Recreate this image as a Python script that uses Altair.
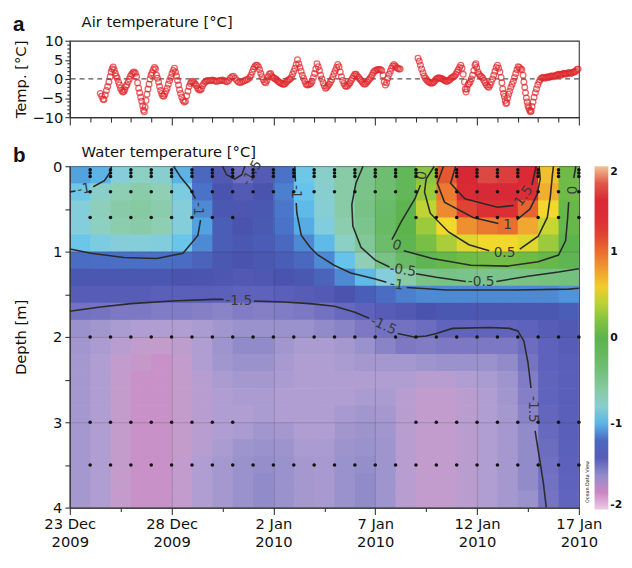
import json
import altair as alt
import pandas as pd

# ---------------- data (days since 23 Dec 2009 00:00) ----------------
air_day = [
 1.50,1.57,1.63,1.68,1.74,1.80,1.86,1.92,1.98,2.03,2.08,2.13,2.18,2.23,2.28,2.33,2.39,2.44,2.49,2.55,
 2.60,2.65,2.70,2.75,2.80,2.86,2.92,2.98,3.04,3.10,3.16,3.22,3.28,3.33,3.38,3.43,3.48,3.53,3.58,3.62,
 3.66,3.70,3.74,3.79,3.84,3.89,3.94,3.99,4.04,4.10,4.16,4.21,4.26,4.31,4.36,4.41,4.46,4.51,4.56,4.61,
 4.66,4.72,4.78,4.84,4.90,4.96,5.02,5.08,5.14,5.19,5.24,5.29,5.34,5.39,5.44,5.50,5.56,5.62,5.68,5.74,
 5.80,5.86,5.92,5.98,6.04,6.10,6.16,6.22,6.28,6.34,6.40,6.46,6.52,6.58,6.64,6.70,6.76,
 6.84,6.92,7.00,7.08,7.16,7.24,7.32,7.40,7.48,7.56,7.64,7.72,7.80,7.88,7.96,8.04,8.12,8.20,8.28,8.36,
 8.44,8.52,8.60,8.68,8.76,8.84,8.90,8.96,9.02,9.08,9.14,9.20,9.26,9.32,9.38,9.44,9.50,9.56,9.62,9.68,
 9.74,9.80,9.86,9.92,9.98,10.04,10.10,10.16,10.22,10.28,10.34,10.40,10.46,10.52,10.58,10.64,10.70,10.76,10.82,10.88,
 10.94,11.00,11.06,11.12,11.18,11.24,11.30,11.36,11.42,11.48,11.54,11.60,11.66,11.72,11.78,11.84,11.90,11.96,12.02,12.08,
 12.14,12.20,12.26,12.32,12.38,12.44,12.50,12.56,12.62,12.68,12.74,12.80,12.86,12.92,12.98,13.04,13.10,13.16,13.22,13.28,
 13.34,13.40,13.46,13.52,13.58,13.64,13.70,13.76,13.82,13.88,13.94,14.00,14.06,14.12,14.18,14.24,14.30,14.36,14.42,14.48,
 14.54,14.60,14.66,14.72,14.78,14.84,14.90,14.96,15.02,15.08,15.14,15.20,15.26,15.32,15.38,15.44,15.50,15.56,15.62,15.68,
 15.74,15.80,15.86,15.92,15.98,16.04,16.10,16.16,16.22,
 17.10,17.16,17.22,17.28,17.34,17.40,17.46,17.52,17.58,17.64,17.70,17.76,17.82,17.88,17.94,18.00,18.06,18.12,18.18,18.24,
 18.30,18.36,18.42,18.48,18.54,18.60,18.66,18.72,18.78,18.84,18.90,18.96,19.02,19.08,19.14,19.20,19.26,19.32,19.38,19.42,
 19.46,19.50,19.55,19.60,19.66,19.72,19.78,19.84,19.90,19.94,19.98,20.04,20.10,20.16,20.22,20.28,20.34,20.40,20.46,20.52,
 20.58,20.64,20.70,20.76,20.82,20.88,20.94,21.00,21.06,21.12,21.18,21.22,21.26,21.30,21.34,21.38,21.42,21.46,21.50,21.55,
 21.60,21.66,21.72,21.78,21.84,21.90,21.96,22.02,22.08,22.14,22.20,22.26,22.30,22.34,22.38,22.42,22.46,22.50,22.54,22.58,
 22.62,22.66,22.70,22.75,22.80,22.86,22.92,22.98,23.04,23.10,23.16,23.22,23.28,23.34,23.40,23.46,23.52,23.58,23.64,23.70,
 23.76,23.82,23.88,23.94,24.00,24.06,24.12,24.18,24.24,24.30,24.36,24.42,24.48,24.54,24.60,24.66,24.72,24.78,24.84,24.90,
 24.96,
]
air_temp = [
 -3.8,-4.5,-5.3,-5.4,-4.2,-3.0,-2.0,-0.8,0.6,1.8,2.6,3.1,2.4,1.5,0.8,0.2,-0.8,-1.6,-2.4,-3.0,
 -3.4,-3.3,-2.8,-2.0,-1.6,-0.8,0.0,0.8,1.2,1.6,1.8,1.5,0.6,-1.0,-2.4,-3.6,-4.8,-5.8,-7.0,-8.2,
 -8.6,-7.4,-5.6,-4.0,-2.6,-1.4,0.0,1.0,1.6,2.4,3.0,2.6,1.0,0.2,-0.8,-2.0,-3.0,-3.8,-4.4,-4.5,
 -4.0,-3.2,-2.4,-1.4,-0.4,0.4,1.4,2.2,2.8,1.8,0.8,-0.4,-1.6,-2.8,-3.8,-4.8,-5.6,-6.0,-5.8,-4.4,
 -3.2,-2.0,-1.2,-0.8,-0.6,-1.0,-1.4,-1.8,-2.4,-2.8,-2.9,-2.6,-1.8,-1.2,-0.8,-0.6,-0.4,
 -0.5,-0.4,-0.3,-0.4,-0.6,-0.6,-0.5,-0.4,-0.3,-0.4,-0.6,-0.7,-0.4,0.2,0.6,0.7,0.2,-0.4,-0.8,-0.9,
 -0.8,-0.6,-0.4,-0.2,0.0,0.4,1.0,1.8,2.6,3.2,3.6,3.6,3.2,2.4,1.4,0.6,-0.2,-0.8,-1.0,-0.4,
 0.6,1.2,1.4,0.8,0.4,0.2,0.0,-0.2,-0.6,-0.8,-1.0,-1.2,-1.4,-1.4,-1.2,-0.8,-0.4,-0.2,0.0,0.4,
 1.2,2.0,2.8,3.8,5.0,4.0,3.0,2.0,1.0,0.2,-0.6,-1.4,-1.6,-1.5,-1.4,-1.2,-0.6,0.4,1.4,2.6,
 4.0,3.2,2.2,1.0,0.0,-1.0,-1.8,-2.4,-2.2,-1.8,-1.4,-0.8,-0.2,0.6,1.4,2.2,3.0,3.8,3.2,1.8,
 0.6,-0.4,-1.2,-1.8,-2.0,-1.8,-1.4,-1.0,-0.4,0.2,0.8,1.2,1.2,0.8,0.4,0.0,-0.4,-0.8,-1.2,-1.4,
 -1.2,-0.8,-0.4,0.0,0.4,1.0,1.6,2.0,2.2,2.4,2.4,2.5,2.4,2.2,1.0,-0.8,-1.6,-1.0,0.2,1.2,
 2.0,2.8,3.4,3.8,3.4,3.0,2.8,2.6,2.6,
 5.4,4.6,3.6,2.6,1.6,0.8,0.2,-0.2,-0.6,-0.8,-1.0,-1.1,-1.0,-0.8,-0.4,0.0,0.2,0.3,0.2,0.1,
 0.0,-0.2,-0.4,-0.6,-0.6,-0.4,-0.2,0.2,0.4,0.6,0.8,1.2,1.8,2.4,3.0,3.6,2.8,1.2,-0.8,-2.6,
 -3.4,-2.6,-1.6,-1.2,-0.8,0.0,1.0,2.2,3.6,4.0,3.0,1.8,1.2,0.8,0.6,0.2,-0.4,-1.0,-1.6,-2.0,
 -2.2,-1.6,-0.8,0.0,1.0,2.0,3.0,3.6,2.8,1.8,0.4,-1.0,-2.6,-3.8,-4.6,-5.6,-6.4,-6.2,-5.0,-4.0,
 -3.2,-2.2,-1.4,-0.6,0.4,1.4,2.4,3.2,3.0,2.6,2.4,1.0,-0.8,-2.2,-3.6,-5.0,-6.0,-7.0,-7.6,-8.2,
 -8.6,-8.4,-7.2,-6.0,-4.8,-3.6,-2.6,-1.6,-0.8,-0.2,0.2,0.4,0.4,0.2,0.4,0.6,0.4,0.6,0.8,0.8,
 0.6,0.8,1.0,1.0,1.2,1.2,1.0,1.2,1.4,1.4,1.2,1.4,1.6,1.6,1.4,1.6,1.8,1.8,2.0,2.4,
 2.6,
]

# water temperature grid: cells 1 day wide, 0.2 m deep
cell_day_start = list(range(25))
cell_depth_top = [0.0, 0.2, 0.4, 0.6, 0.8, 1.0, 1.2, 1.4, 1.6, 1.8,
                  2.0, 2.2, 2.4, 2.6, 2.8, 3.0, 3.2, 3.4, 3.6, 3.8]
water_temp = [
 [-1.05,-1.0,-0.84,-0.76,-0.8,-1.0,-1.2,-1.35,-1.5,-1.38,-1.15,-0.92,-0.78,-0.62,-0.48,-0.32,-0.12,0.25,1.1,1.65,1.75,1.72,1.55,0.65,0.1],
 [-0.92,-0.78,-0.68,-0.64,-0.7,-0.88,-1.15,-1.3,-1.36,-1.3,-1.12,-0.95,-0.8,-0.62,-0.47,-0.33,-0.14,0.3,0.95,1.5,1.62,1.6,1.45,0.72,0.1],
 [-0.85,-0.72,-0.63,-0.6,-0.65,-0.84,-1.1,-1.28,-1.32,-1.28,-1.14,-0.98,-0.82,-0.62,-0.45,-0.28,-0.04,0.42,0.88,1.2,1.35,1.4,1.05,0.55,0.05],
 [-0.85,-0.74,-0.66,-0.63,-0.68,-0.85,-1.05,-1.25,-1.3,-1.27,-1.15,-1.02,-0.86,-0.66,-0.5,-0.25,0.0,0.3,0.55,0.85,0.95,1.0,0.75,0.45,0.05],
 [-0.93,-0.88,-0.84,-0.84,-0.86,-0.94,-1.1,-1.25,-1.28,-1.26,-1.2,-1.1,-0.98,-0.76,-0.55,-0.3,-0.05,0.15,0.35,0.5,0.55,0.55,0.5,0.3,0.0],
 [-1.18,-1.17,-1.16,-1.16,-1.16,-1.18,-1.22,-1.28,-1.3,-1.28,-1.25,-1.2,-1.1,-0.95,-0.7,-0.45,-0.25,-0.05,0.05,0.1,0.12,0.12,0.1,0.05,-0.05],
 [-1.28,-1.28,-1.28,-1.28,-1.28,-1.3,-1.31,-1.32,-1.35,-1.33,-1.3,-1.28,-1.22,-1.1,-0.98,-0.85,-0.62,-0.48,-0.46,-0.48,-0.5,-0.48,-0.45,-0.42,-0.4],
 [-1.4,-1.4,-1.4,-1.4,-1.42,-1.42,-1.42,-1.43,-1.45,-1.45,-1.42,-1.4,-1.36,-1.3,-1.25,-1.18,-1.12,-1.1,-1.1,-1.1,-1.1,-1.1,-1.1,-1.1,-1.08],
 [-1.52,-1.53,-1.55,-1.55,-1.56,-1.56,-1.57,-1.58,-1.56,-1.57,-1.56,-1.55,-1.52,-1.48,-1.45,-1.4,-1.35,-1.3,-1.28,-1.28,-1.28,-1.28,-1.28,-1.28,-1.25],
 [-1.62,-1.65,-1.68,-1.7,-1.7,-1.7,-1.68,-1.65,-1.62,-1.62,-1.62,-1.62,-1.6,-1.58,-1.55,-1.52,-1.52,-1.5,-1.46,-1.46,-1.46,-1.46,-1.45,-1.4,-1.35],
 [-1.65,-1.68,-1.72,-1.75,-1.76,-1.74,-1.7,-1.64,-1.6,-1.6,-1.65,-1.68,-1.68,-1.66,-1.62,-1.58,-1.55,-1.56,-1.55,-1.55,-1.55,-1.55,-1.5,-1.45,-1.4],
 [-1.66,-1.7,-1.75,-1.77,-1.78,-1.76,-1.7,-1.65,-1.62,-1.62,-1.67,-1.7,-1.7,-1.68,-1.66,-1.66,-1.66,-1.64,-1.62,-1.62,-1.62,-1.6,-1.53,-1.45,-1.42],
 [-1.66,-1.7,-1.76,-1.78,-1.78,-1.76,-1.72,-1.68,-1.66,-1.66,-1.68,-1.7,-1.7,-1.7,-1.7,-1.7,-1.7,-1.72,-1.72,-1.7,-1.68,-1.64,-1.56,-1.46,-1.42],
 [-1.66,-1.7,-1.76,-1.78,-1.78,-1.76,-1.72,-1.7,-1.68,-1.68,-1.7,-1.7,-1.7,-1.7,-1.68,-1.68,-1.72,-1.75,-1.75,-1.73,-1.7,-1.65,-1.57,-1.46,-1.42],
 [-1.66,-1.7,-1.76,-1.78,-1.78,-1.76,-1.72,-1.7,-1.7,-1.68,-1.7,-1.7,-1.7,-1.67,-1.65,-1.66,-1.72,-1.75,-1.75,-1.73,-1.7,-1.66,-1.58,-1.47,-1.42],
 [-1.66,-1.7,-1.76,-1.78,-1.78,-1.76,-1.72,-1.7,-1.68,-1.65,-1.66,-1.7,-1.7,-1.65,-1.63,-1.65,-1.72,-1.75,-1.75,-1.73,-1.7,-1.66,-1.6,-1.48,-1.42],
 [-1.66,-1.7,-1.76,-1.78,-1.78,-1.76,-1.72,-1.68,-1.64,-1.62,-1.63,-1.68,-1.68,-1.63,-1.62,-1.64,-1.72,-1.75,-1.75,-1.73,-1.7,-1.66,-1.6,-1.5,-1.43],
 [-1.66,-1.7,-1.76,-1.78,-1.78,-1.75,-1.7,-1.66,-1.62,-1.61,-1.62,-1.66,-1.67,-1.62,-1.61,-1.64,-1.72,-1.75,-1.75,-1.73,-1.7,-1.66,-1.6,-1.51,-1.44],
 [-1.66,-1.7,-1.76,-1.78,-1.78,-1.75,-1.7,-1.66,-1.62,-1.6,-1.62,-1.66,-1.67,-1.62,-1.6,-1.64,-1.72,-1.75,-1.75,-1.73,-1.7,-1.66,-1.6,-1.52,-1.45],
 [-1.66,-1.7,-1.76,-1.78,-1.78,-1.75,-1.7,-1.66,-1.62,-1.6,-1.62,-1.66,-1.67,-1.62,-1.6,-1.64,-1.72,-1.75,-1.75,-1.73,-1.7,-1.66,-1.62,-1.53,-1.46],
]

# sampling positions (black dots)
depths_all_days = [0.04, 0.08, 0.12, 0.3, 2.0, 3.5]
depths_some_days = [0.6, 3.0]
days_all = list(range(1, 26))
days_some = [1, 2, 3, 4, 5, 6, 7, 8, 17, 18, 19, 20, 21, 22, 23, 24, 25]

# contour paths (day, depth)
contour_paths = {
    "m1_left_a": [(0, 0.97), (1.05, 1.02), (2.66, 1.07), (4.27, 1.08), (5.56, 1.02), (6.29, 0.81), (6.42, 0.63)],
    "m1_left_b": [(6.17, 0.38), (5.9, 0.26), (5.45, 0.13), (5.1, 0.0)],
    "m1_tl_a": [(0, 0.3), (0.28, 0.29)],
    "m1_tl_b": [(1.15, 0.24), (1.7, 0.17), (1.95, 0.08), (2.05, 0.0)],
    "m15_top": [(7.5, 0.0), (7.7, 0.1), (8.1, 0.15), (8.45, 0.1), (8.6, 0.0)],
    "m1_r_a": [(11.05, 0.0), (11.08, 0.18)],
    "m1_r_b": [(11.12, 0.43), (11.15, 0.55), (11.37, 0.81), (11.8, 0.95), (12.18, 1.04), (12.98, 1.16),
               (13.8, 1.25), (15.0, 1.32), (15.55, 1.36)],
    "m1_r_c": [(16.55, 1.42), (18.5, 1.45), (21.9, 1.45), (24.5, 1.44), (25, 1.43)],
    "m05_a": [(14.4, 0.0), (14.05, 0.2), (13.85, 0.45), (13.9, 0.7), (14.3, 0.95), (15.0, 1.1), (15.7, 1.18)],
    "m05_b": [(17.0, 1.26), (18.0, 1.3), (19.45, 1.35)],
    "m05_c": [(20.95, 1.35), (22.5, 1.29), (24.0, 1.24), (25, 1.2)],
    "z_a": [(17.22, 0.22), (16.95, 0.38), (16.6, 0.52), (16.25, 0.66), (15.95, 0.8), (15.82, 0.86)],
    "z_b": [(16.4, 0.99), (17.8, 1.08), (19.7, 1.16), (21.5, 1.17), (23.0, 1.12), (24.0, 1.04),
            (24.35, 0.87), (24.45, 0.6), (24.5, 0.42)],
    "z_c": [(24.75, 0.14), (24.85, 0.0)],
    "p05_a": [(17.9, 0.0), (17.5, 0.15), (17.42, 0.3), (17.7, 0.55), (18.6, 0.77), (19.6, 0.92), (20.6, 0.99)],
    "p05_b": [(22.1, 0.97), (23.0, 0.82), (23.45, 0.6), (23.6, 0.35), (23.7, 0.1), (23.75, 0.0)],
    "p1_a": [(18.35, 0.0), (18.05, 0.2), (18.4, 0.42), (19.8, 0.6), (21.05, 0.67)],
    "p1_b": [(21.95, 0.63), (22.6, 0.5), (22.95, 0.33), (23.1, 0.15), (23.05, 0.0)],
    "p15_a": [(18.95, 0.0), (18.7, 0.2), (19.4, 0.38), (21.0, 0.48), (21.8, 0.46)],
    "p15_b": [(22.7, 0.22), (22.9, 0.0)],
    "m15_a": [(0, 1.7), (1.5, 1.65), (3.0, 1.61), (5.0, 1.58), (7.0, 1.56), (7.55, 1.56)],
    "m15_b": [(9.05, 1.58), (10.5, 1.59), (11.8, 1.61), (13.0, 1.64), (14.0, 1.71), (14.7, 1.78)],
    "m15_c": [(16.1, 1.96), (16.9, 2.0), (17.5, 1.99), (18.0, 1.96), (18.8, 1.9), (20.6, 1.89), (21.6, 1.9),
              (22.0, 1.93), (22.3, 2.05), (22.5, 2.3), (22.65, 2.6)],
    "m15_d": [(22.85, 3.1), (23.05, 3.4), (23.25, 3.7), (23.4, 4.0)],
}
label_text = ["-1", "-1", "-1.5", "-1", "-1", "-0.5", "-0.5", "0", "0", "0", "0.5", "1", "1.5", "-1.5", "-1.5", "-1.5"]
label_day = [6.27, 0.7, 8.95, 11.1, 16.05, 16.35, 20.2, 16.05, 17.3, 24.62, 21.35, 21.5, 22.3, 8.3, 15.4, 22.75]
label_depth = [0.5, 0.27, 0.08, 0.3, 1.39, 1.22, 1.36, 0.93, 0.11, 0.28, 1.02, 0.69, 0.35, 1.58, 1.87, 2.85]
label_angle = [90, 350, 300, 90, 8, 8, 0, 20, 280, 90, 0, 0, 305, 0, 25, 90]

date_labels = ["23 Dec", "28 Dec", "2 Jan", "7 Jan", "12 Jan", "17 Jan"]
year_labels = ["2009", "2009", "2010", "2010", "2010", "2010"]
colorbar_values = [-2, -1, 0, 1, 2]

color_domain = [-2.0, -1.9, -1.82, -1.76, -1.7, -1.62, -1.55, -1.45, -1.3, -1.15, -1.05, -0.95, -0.85,
                -0.7, -0.5, -0.25, 0.0, 0.25, 0.45, 0.55, 0.7, 0.85, 1.0, 1.15, 1.3, 1.65, 1.8, 1.9, 2.0]
color_range = ["#eccbe6", "#e08ccc", "#d07cbc", "#c49ccc", "#b09ed2", "#9a92cc", "#7c78c4", "#5e62bc",
               "#4a54ae", "#4a72c8", "#52a2e0", "#66c4ec", "#84cedc", "#90cfb6", "#7cc48e", "#68ba64",
               "#5cb44c", "#8cc640", "#c8d632", "#f2d82a", "#f2b430", "#ee9030", "#ea6e30", "#e24c30",
               "#dc3034", "#d82836", "#e05848", "#ea9068", "#f2c494"]

# ---------------- tables ----------------
air_df = pd.DataFrame({"day": air_day, "temp": air_temp})
cells = []
for j, top in enumerate(cell_depth_top):
    for i, d0 in enumerate(cell_day_start):
        # slight overlap of neighbouring cells hides anti-aliasing seams
        cells.append({"day": d0, "day2": min(d0 + 1.04, 25), "depth": top, "depth2": min(top + 0.208, 4.0),
                      "temp": water_temp[j][i]})
cell_df = pd.DataFrame(cells)
dots = [{"day": d, "depth": z} for z in depths_all_days for d in days_all]
dots += [{"day": d, "depth": z} for z in depths_some_days for d in days_some]
dot_df = pd.DataFrame(dots)
line_rows = []
for name, pts in contour_paths.items():
    for k, (d, z) in enumerate(pts):
        line_rows.append({"seg": name, "k": k, "day": d, "depth": z})
line_df = pd.DataFrame(line_rows)
lab_df = pd.DataFrame({"day": label_day, "depth": label_depth, "text": label_text, "angle": label_angle})

W, HA, HB = 519, 78, 348
FONT = "DejaVu Sans"

def cond(test, a, b):
    return {"condition": {"test": test, "value": a}, "value": b}

def header(text, x, y, size, weight, font):
    return alt.Chart(pd.DataFrame({"t": [text]})).mark_text(
        font=font, fontSize=size, fontWeight=weight, align="left", baseline="top", color="#111"
    ).encode(x=alt.value(x), y=alt.value(y), text="t:N")

# ---------------- panel a ----------------
xa_axis = alt.Axis(values=list(range(26)), labels=False, title=None, grid=False,
                   tickSize=cond("datum.value % 5 === 0", 8, 5))
ya_axis = alt.Axis(values=list(range(-10, 11)), title="Temp. [°C]", grid=False,
                   labelExpr="datum.value % 5 === 0 ? datum.label : ''",
                   tickSize=cond("datum.value % 5 === 0", 5, 3), labelPadding=2,
                   titleX=-50, titleY=HA / 2, titleAngle=270, titleBaseline="middle", titleAlign="center")
xa = alt.X("day:Q", scale=alt.Scale(domain=[0, 25], nice=False, zero=False), axis=xa_axis)
ya = alt.Y("temp:Q", scale=alt.Scale(domain=[-10, 10], nice=False), axis=ya_axis)

pts = alt.Chart(air_df).mark_point(shape="circle", filled=False, size=34, strokeWidth=1.3,
                                   color="#e0252a").encode(x=xa, y=ya)
zero = alt.Chart(pd.DataFrame({"temp": [0]})).mark_rule(color="#555", strokeDash=[5, 4],
                                                        strokeWidth=1.2).encode(y=ya)

panel_a = alt.layer(zero, pts,
                    header("a", -58, -27, 21, "bold", "Liberation Sans"),
                    header("Air temperature [°C]", 12, -26, 15, "normal", FONT)
                    ).properties(width=W, height=HA)

# ---------------- panel b ----------------
dates_js = json.dumps(date_labels)
years_js = json.dumps(year_labels)
xb_axis = alt.Axis(values=[v * 2.5 for v in range(11)], title=None, labelFlush=False,
                   labelExpr=f"datum.value % 5 === 0 ? [{dates_js}[round(datum.value/5)], {years_js}[round(datum.value/5)]] : ''",
                   tickSize=cond("datum.value % 5 === 0", 7, 4), labelPadding=2, labelLineHeight=19,
                   grid=True, gridColor="#333", gridOpacity=cond("datum.value % 5 === 0", 0.22, 0), zindex=1)
yb_axis = alt.Axis(values=[v * 0.5 for v in range(9)], title="Depth [m]",
                   labelExpr="datum.value % 1 === 0 ? format(datum.value, 'd') : ''", tickSize=5, labelPadding=3,
                   grid=True, gridColor="#333", gridOpacity=cond("datum.value % 1 === 0", 0.22, 0), zindex=1,
                   titleX=-50, titleY=HB / 2, titleAngle=270, titleBaseline="middle", titleAlign="center")
xb = alt.X("day:Q", scale=alt.Scale(domain=[0, 25], nice=False, zero=False), axis=xb_axis)
yb = alt.Y("depth:Q", scale=alt.Scale(domain=[0, 4], nice=False, zero=False, reverse=True), axis=yb_axis)
cscale = alt.Scale(domain=color_domain, range=color_range, interpolate="rgb")

heat = alt.Chart(cell_df).mark_rect().encode(
    x=xb, x2="day2:Q", y=yb, y2="depth2:Q",
    color=alt.Color("temp:Q", scale=cscale, legend=alt.Legend(
        type="gradient", orient="right", direction="vertical", offset=12, padding=0, title=None,
        gradientLength=350, gradientThickness=14, gradientStrokeWidth=0,
        values=colorbar_values, labelExpr="toString(datum.value)",
        labelFontSize=11, labelFontWeight="bold", labelFont=FONT, labelOffset=2, labelColor="#111")),
)
lines = alt.Chart(line_df).mark_line(color="#2b2b2b", strokeWidth=1.6).encode(
    x=xb, y=yb, detail="seg:N", order="k:Q")
labels = alt.Chart(lab_df).mark_text(color="#3a3a3a", fontSize=14, font=FONT).encode(
    x=xb, y=yb, text="text:N", angle=alt.Angle("angle:Q", scale=None))
dotl = alt.Chart(dot_df).mark_circle(size=13, color="#111", opacity=1).encode(x=xb, y=yb)
odv = alt.Chart(pd.DataFrame({"t": ["Ocean Data View"]})).mark_text(
    fontSize=5, angle=270, color="#222", font=FONT).encode(x=alt.value(W + 8), y=alt.value(322), text="t:N")

panel_b = alt.layer(heat, lines, labels, dotl, odv,
                    header("b", -58, -21, 21, "bold", "Liberation Sans"),
                    header("Water temperature [°C]", 12, -21, 15, "normal", FONT)
                    ).properties(width=W, height=HB)

chart = alt.vconcat(panel_a, panel_b, spacing=18,
                    padding={"left": 4, "top": 0, "right": 0, "bottom": 0}).resolve_scale(
    color="independent"
).configure(font=FONT).configure_view(stroke="#333", strokeWidth=1.1).configure_axis(
    domainColor="#333", tickColor="#333", labelColor="#111", labelFont=FONT, titleFont=FONT,
    labelFontSize=15, titleFontSize=15, titleFontWeight="normal", titleColor="#111",
    domainWidth=1.2, tickWidth=1.1
).configure_legend(offset=12, padding=0)

chart.save("out.html", embed_options={"renderer": "svg", "actions": False})
